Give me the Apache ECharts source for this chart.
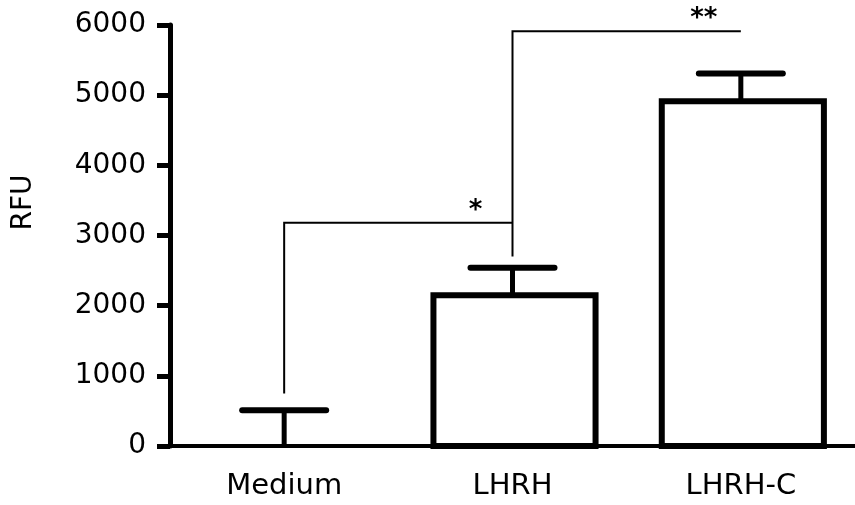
<!DOCTYPE html>
<html>
<head>
<meta charset="utf-8">
<script src="https://cdn.jsdelivr.net/npm/echarts@6/dist/echarts.min.js"></script>
<style>
html,body{margin:0;padding:0;background:#fff;}
#chart{width:855px;height:505px;}
</style>
</head>
<body>
<div id="chart"></div>
<script>
// ---- data ----
var categories = ['Medium', 'LHRH', 'LHRH-C'];
var meanValues = [0, 2150, 4915];
var errorTops = [510, 2540, 5310];
var yTicks = { min: 0, max: 6000, interval: 1000 };
// significance brackets: [startCat, startVal, topVal, endCat]
var bracketStartCat = [0, 1];
var bracketStartVal = [750, 2700];
var bracketTopVal = [3180, 5910];
var bracketEndCat = [1, 2];
var bracketLabels = ['*', '**'];

var FONT = 'DejaVu Sans';
var chart = echarts.init(document.getElementById('chart'), null, {renderer: 'canvas'});

var barData = categories.map(function (c, i) { return [i, meanValues[i], errorTops[i]]; });
var bracketData = bracketLabels.map(function (l, i) { return [i]; });

chart.setOption({
  animation: false,
  backgroundColor: '#fff',
  grid: { left: 170, top: 25, width: 689, height: 421, containLabel: false },
  xAxis: {
    type: 'category',
    data: categories,
    axisLine: { lineStyle: { color: '#000', width: 4 } },
    axisTick: { alignWithLabel: true, length: 14, lineStyle: { color: '#000', width: 5 } },
    axisLabel: { color: '#000', fontSize: 29, fontFamily: FONT, margin: 26 },
    splitLine: { show: false }
  },
  yAxis: {
    type: 'value',
    min: yTicks.min, max: yTicks.max, interval: yTicks.interval,
    name: 'RFU',
    nameLocation: 'middle',
    nameRotate: 90,
    nameGap: 132,
    nameTextStyle: { color: '#000', fontSize: 28, fontFamily: FONT, padding: [0, 0, 0, 66] },
    axisLine: { show: true, lineStyle: { color: '#000', width: 5 } },
    axisTick: { show: true, length: 13, lineStyle: { color: '#000', width: 5 } },
    axisLabel: { color: '#000', fontSize: 28, fontFamily: FONT, margin: 24,
                 formatter: function (v) { return String(v); } },
    splitLine: { show: false }
  },
  series: [
    {
      type: 'custom',
      data: barData,
      z: 2,
      clip: false,
      renderItem: function (params, api) {
        var x = api.value(0);
        var base = api.coord([x, 0]);
        var top = api.coord([x, api.value(1)]);
        var cap = api.coord([x, api.value(2)]);
        var bw = api.size([1, 0])[0] * 0.71;
        var half = 42;
        var children = [];
        if (api.value(1) > 0) {
          children.push({ type: 'rect',
            shape: { x: base[0] - bw / 2 + 2, y: top[1], width: bw, height: base[1] - top[1] },
            style: { fill: '#fff', stroke: '#000', lineWidth: 6 } });
        }
        children.push({ type: 'line', shape: { x1: top[0], y1: top[1], x2: cap[0], y2: cap[1] },
          style: { stroke: '#000', lineWidth: 5 } });
        children.push({ type: 'line', shape: { x1: cap[0] - half, y1: cap[1], x2: cap[0] + half, y2: cap[1] },
          style: { stroke: '#000', lineWidth: 6, lineCap: 'round' } });
        return { type: 'group', children: children };
      }
    },
    {
      type: 'custom',
      data: bracketData,
      z: 4,
      renderItem: function (params, api) {
        var i = params.dataIndex;
        var a = api.coord([bracketStartCat[i], bracketStartVal[i]]);
        var b = api.coord([bracketStartCat[i], bracketTopVal[i]]);
        var c = api.coord([bracketEndCat[i], bracketTopVal[i]]);
        return {
          type: 'group',
          children: [
            { type: 'polyline', shape: { points: [a, b, c] },
              style: { stroke: '#000', lineWidth: 2, fill: null } },
            { type: 'text', x: c[0] - 37, y: c[1] + 1,
              style: { text: bracketLabels[i], fill: '#000', fontSize: 26, fontFamily: FONT,
                       fontWeight: 'bold', align: 'center', verticalAlign: 'bottom' } }
          ]
        };
      }
    }
  ]
});
</script>
</body>
</html>
